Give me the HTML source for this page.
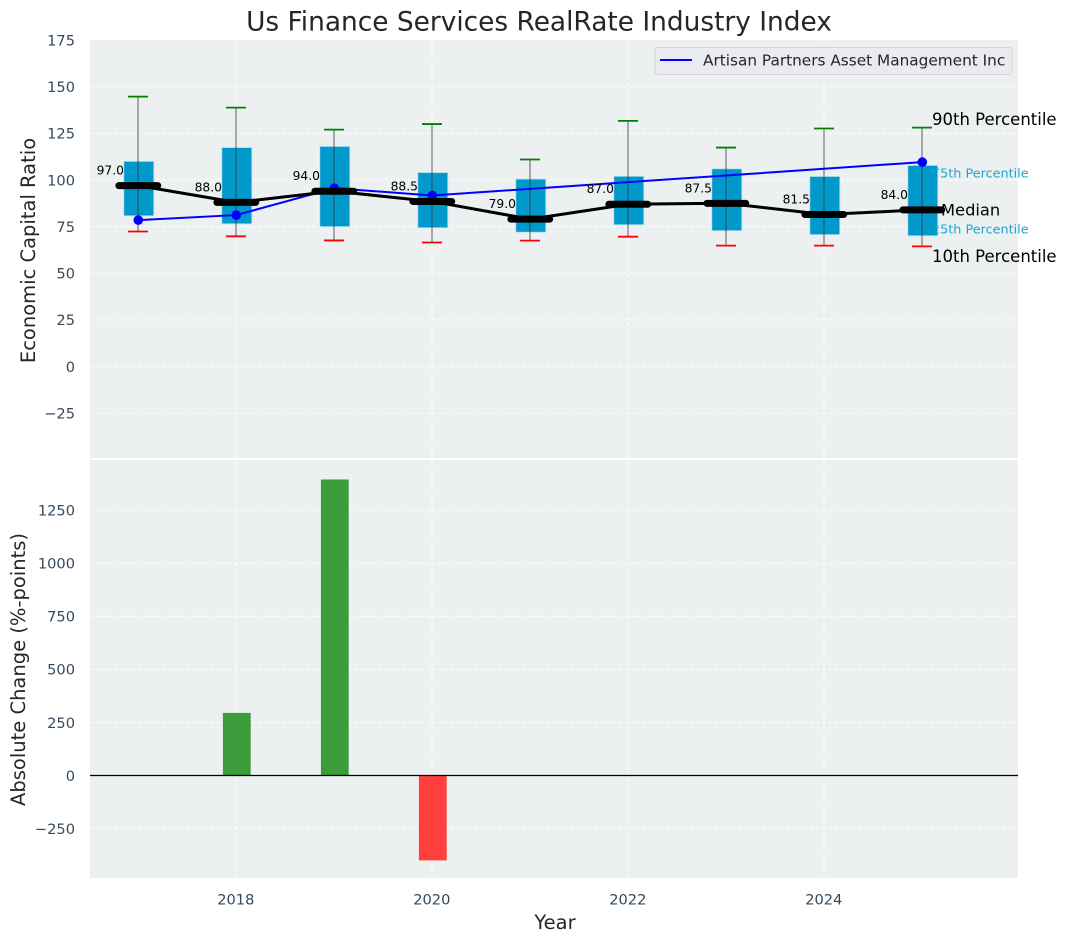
<!DOCTYPE html>
<html>
<head>
<meta charset="utf-8">
<style>
html,body{margin:0;padding:0;background:#fff;}
svg{display:block;}
text{font-family:"DejaVu Sans","Liberation Sans",sans-serif;}
</style>
</head>
<body>
<svg id="chart" xmlns="http://www.w3.org/2000/svg" width="1067" height="942" viewBox="0 0 1067 942">
  <rect x="0" y="0" width="1067" height="942" fill="#ffffff"/>
  <rect x="90" y="40" width="928" height="418" fill="#ecf0f1"/>
  <rect x="90" y="460" width="928" height="418" fill="#ecf0f1"/>
  <g id="grid"></g>
  <g id="ticks"></g>
  <text x="539" y="30.5" text-anchor="middle" font-size="26.4" fill="#262626">Us Finance Services RealRate Industry Index</text>
  <text transform="translate(35,250.5) rotate(-90)" text-anchor="middle" font-size="19.5" fill="#262626">Economic Capital Ratio</text>
  <text transform="translate(25,669.5) rotate(-90)" text-anchor="middle" font-size="19.5" fill="#262626">Absolute Change (%-points)</text>
  <text x="555" y="929" text-anchor="middle" font-size="19.5" fill="#262626">Year</text>
  <text x="932" y="177.5" font-size="12.8" fill="#1ba6d6">75th Percentile</text>
  <text x="932" y="233.5" font-size="12.8" fill="#1ba6d6">25th Percentile</text>
  <g id="marks"></g>
  <text x="932" y="125" font-size="16.5" fill="#000000">90th Percentile</text>
  <text x="941" y="215.5" font-size="16.3" fill="#000000">Median</text>
  <text x="932" y="262" font-size="16.5" fill="#000000">10th Percentile</text>
  <g>
    <rect x="655" y="47.5" width="357" height="27" rx="3" fill="#e9ebf0" stroke="#d3d5da" stroke-width="1"/>
    <line x1="660" y1="60" x2="692" y2="60" stroke="#0000ff" stroke-width="2"/>
    <text x="703" y="65.5" font-size="15.3" fill="#262626">Artisan Partners Asset Management Inc</text>
  </g>
</svg>
<script>
const years = [2017, 2018, 2019, 2020, 2021, 2022, 2023, 2024, 2025];
const p90 = [144.7, 138.8, 127, 130, 111, 131.7, 117.4, 127.6, 128.1];
const p75 = [110, 117.4, 118, 104, 100.5, 102, 106, 101.9, 107.8];
const medians = [97, 88, 94, 88.5, 79, 87, 87.5, 81.5, 84];
const p25 = [80.8, 76.5, 75, 74.4, 72, 76, 72.8, 70.7, 70.1];
const p10 = [72.4, 69.8, 67.6, 66.5, 67.5, 69.6, 64.8, 64.8, 64.4];
const company = [78.5, 81.2, 95.6, 91.7, null, null, null, null, 109.6];
const changes = [null, 295, 1395, -400, null, null, null, null, null];
const topTicks = [175, 150, 125, 100, 75, 50, 25, 0, -25];
const bottomTicks = [1250, 1000, 750, 500, 250, 0, -250];
const xTicks = [2018, 2020, 2022, 2024];

const NS = 'http://www.w3.org/2000/svg';
const x = function (v) { return 138.3 + (v - 2017) * 98; };
const yTop = function (v) { return 366.5 - v * 1.865; };
const yBot = function (v) { return 775.5 - v * 0.2122; };
const fmtTick = function (v) { return v < 0 ? '\u2212' + Math.abs(v) : String(v); };

function make(parent, tag, props, text) {
  const el = document.createElementNS(NS, tag);
  Object.keys(props).forEach(function (k) { el.setAttribute(k, props[k]); });
  if (text !== undefined) el.textContent = text;
  parent.appendChild(el);
  return el;
}

const grid = document.getElementById('grid');
const ticks = document.getElementById('ticks');
const marks = document.getElementById('marks');
const gridStyle = { stroke: '#ffffff', 'stroke-width': 1, 'stroke-dasharray': '4 2', 'stroke-opacity': 0.85 };

topTicks.forEach(function (t) {
  if (t < 175) {
    const g = make(grid, 'line', Object.assign({ x1: 90, x2: 1018, y1: yTop(t), y2: yTop(t) }, gridStyle));
    
    
  }
  const l = make(ticks, 'text', { x: 75, y: yTop(t) + 5.3, 'text-anchor': 'end', 'font-size': 14.6, fill: '#34495e' }, fmtTick(t));
  
  
});
bottomTicks.forEach(function (t) {
  const g = make(grid, 'line', Object.assign({ x1: 90, x2: 1018, y1: yBot(t), y2: yBot(t) }, gridStyle));
  
  
  const l = make(ticks, 'text', { x: 75, y: yBot(t) + 5.3, 'text-anchor': 'end', 'font-size': 14.6, fill: '#34495e' }, fmtTick(t));
  
  
});
xTicks.forEach(function (t) {
  const g1 = make(grid, 'line', Object.assign({ x1: x(t) - 0.3, x2: x(t) - 0.3, y1: 40, y2: 458 }, gridStyle));
  
  
  const g2 = make(grid, 'line', Object.assign({ x1: x(t) - 0.3, x2: x(t) - 0.3, y1: 460, y2: 878 }, gridStyle));
  
  
  const l = make(ticks, 'text', { x: x(t) - 0.5, y: 904.5, 'text-anchor': 'middle', 'font-size': 14.6, fill: '#34495e' }, String(t));
  
  
});

/* boxes */
years.forEach(function (yr, i) {
  const b = make(marks, 'rect', {
    x: x(yr) - 14.5, y: yTop(p75[i]), width: 30, height: yTop(p25[i]) - yTop(p75[i]),
    fill: '#0099cc', stroke: '#b9dfee', 'stroke-width': 0.8
  });
  
  
});
/* whiskers and caps */
years.forEach(function (yr, i) {
  const w = make(marks, 'line', {
    x1: x(yr) - 0.3, x2: x(yr) - 0.3, y1: yTop(p90[i]), y2: yTop(p10[i]),
    stroke: '#333333', 'stroke-opacity': 0.7, 'stroke-width': 1.1
  });
  
  
  const c1 = make(marks, 'line', {
    x1: x(yr) - 10.3, x2: x(yr) + 9.7, y1: yTop(p90[i]), y2: yTop(p90[i]),
    stroke: '#008000', 'stroke-width': 1.8
  });
  
  
  const c2 = make(marks, 'line', {
    x1: x(yr) - 10.3, x2: x(yr) + 9.7, y1: yTop(p10[i]), y2: yTop(p10[i]),
    stroke: '#ff0000', 'stroke-width': 1.8
  });
  
  
});
/* company line: gaps are skipped, the line runs straight across them */
const companyPoints = years.map(function (yr, i) {
  return company[i] === null ? null : x(yr) + ',' + yTop(company[i]);
}).filter(Boolean).join(' ');
const companyLine = make(marks, 'polyline', { points: companyPoints, fill: 'none', stroke: '#0000ff', 'stroke-width': 2 });


years.forEach(function (yr, i) {
  if (company[i] === null) return;
  const d = make(marks, 'circle', { cx: x(yr), cy: yTop(company[i]), r: 4.8, fill: '#0000ff' });
  
  
});
/* median line, thick bars and labels */
const medianPoints = years.map(function (yr, i) { return x(yr) + ',' + yTop(medians[i]); }).join(' ');
const medianLine = make(marks, 'polyline', { points: medianPoints, fill: 'none', stroke: '#000000', 'stroke-width': 3 });


years.forEach(function (yr, i) {
  const m = make(marks, 'line', {
    x1: x(yr) - 19.4, x2: x(yr) + 19.4, y1: yTop(medians[i]), y2: yTop(medians[i]),
    stroke: '#000000', 'stroke-width': 7, 'stroke-linecap': 'round'
  });
  
  
  const l = make(marks, 'text', {
    x: x(yr) - 14.3, y: yTop(medians[i]) - 11, 'text-anchor': 'end', 'font-size': 12.3, fill: '#000000'
  }, medians[i].toFixed(1));
  
  
});
/* change bars */
years.forEach(function (yr, i) {
  if (changes[i] === null) return;
  const v = changes[i];
  const r = make(marks, 'rect', {
    x: x(yr) - 13.4, y: Math.min(yBot(v), yBot(0)), width: 27.8, height: Math.abs(yBot(v) - yBot(0)),
    fill: v >= 0 ? '#3c9c3c' : '#ff3e3e'
  });
  
  
});
const zero = make(marks, 'line', { x1: 90, x2: 1018, y1: yBot(0), y2: yBot(0), stroke: '#000000', 'stroke-width': 1.2 });


</script>
</body>
</html>
